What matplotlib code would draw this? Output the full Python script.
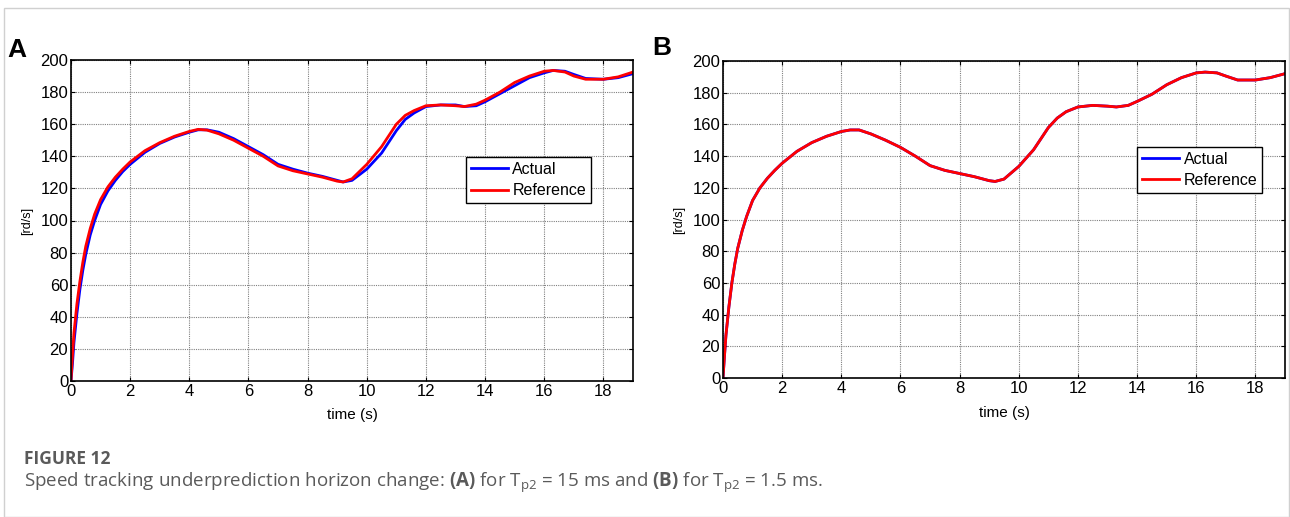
import matplotlib.pyplot as plt
from matplotlib.patches import Rectangle

# time samples (s)
t = [0, 0.05, 0.1, 0.2, 0.3, 0.4, 0.5, 0.65, 0.8, 1.0, 1.25, 1.5, 1.75, 2.0, 2.5, 3.0, 3.5, 4.0,
     4.3, 4.6, 5.0, 5.5, 6.0, 6.5, 7.0, 7.5, 8.0, 8.5, 9.0, 9.2, 9.5, 10.0, 10.5, 11.0, 11.3,
     11.6, 12.0, 12.5, 13.0, 13.3, 13.7, 14.0, 14.5, 15.0, 15.5, 16.0, 16.3, 16.7, 17.0, 17.4,
     18.0, 18.5, 19.0]

# panel A
ref_a = [0, 16, 30, 48, 62, 74, 84, 95, 104, 113, 121, 127, 132, 136.5, 143.5, 148.5, 152.5, 155.5,
         156.8, 156.3, 154, 150, 145, 140, 134, 131, 129, 127, 124.5, 124, 126, 135, 146, 160, 165.5,
         168.5, 171.5, 172, 171.5, 171, 172.5, 175, 180, 186, 190, 193, 193.5, 192.5, 190, 188,
         188, 189.5, 192.5]
act_a = [0, 11, 24, 42, 57, 69, 79, 91, 100, 110, 118.5, 125, 130.5, 135, 142.5, 148, 152, 155,
         156.5, 156.5, 155, 151, 146, 141, 135, 132, 129.5, 127.5, 125, 124, 125, 132, 142, 156, 163,
         167, 171, 172, 172, 171, 171.5, 174, 179, 184, 189, 192, 193.5, 193, 191, 188.5,
         188, 189, 191.5]

# panel B
ref_b = [0, 14, 27, 45, 60, 72, 82, 93, 102, 112, 120, 126, 131, 135.5, 143, 148.5, 152.5, 155.5,
         156.5, 156.5, 154, 150, 145.5, 140, 134, 131, 129, 127, 124.5, 124, 125.5, 133.5, 144, 158, 164,
         168, 171, 172, 171.5, 171, 172, 174.5, 179, 185, 189.5, 192.5, 193, 192.5, 190.5, 188,
         188, 189.5, 192]
act_b = ref_b

xticks = list(range(0, 19, 2))
yticks = list(range(0, 201, 20))

plt.rcParams['font.family'] = ['Liberation Sans', 'DejaVu Sans']
plt.rcParams['lines.solid_joinstyle'] = 'round'

fig = plt.figure(figsize=(12.9, 5.17), dpi=100)
W, H = 1290, 517

# outer card border
fig.patches.append(Rectangle((4 / W, 0), (1289 - 4) / W, (517 - 8) / H, transform=fig.transFigure,
                             fill=False, edgecolor='#d0d0d0', linewidth=1.0))

def make_panel(rect, actual, reference, leg_pos, letter, letter_xy):
    l, r, top, bot = rect
    ax = fig.add_axes([l / W, 1 - bot / H, (r - l) / W, (bot - top) / H])
    ax.plot(t, actual, color='#0000ff', lw=2.0, label='Actual')
    ax.plot(t, reference, color='#ff0000', lw=2.0, label='Reference')
    ax.set_xlim(0, 19)
    ax.set_ylim(0, 200)
    ax.set_xticks(xticks)
    ax.set_yticks(yticks)
    ax.grid(True, color='#808080', linestyle=(0, (1, 1)), linewidth=0.8)
    ax.tick_params(direction='in', top=True, right=True, labelsize=12, length=3, pad=2)
    for s in ax.spines.values():
        s.set_linewidth(1.2)
        s.set_color('black')
    ax.set_xlabel('time (s)', fontsize=11, labelpad=7)
    ax.set_ylabel('[rd/s]', fontsize=9, labelpad=5)
    leg = ax.legend(loc='upper left', bbox_to_anchor=leg_pos, fontsize=11.5, fancybox=False,
                    framealpha=1, edgecolor='black', borderpad=0.3, handlelength=2.3,
                    handletextpad=0.3, labelspacing=0.4, borderaxespad=0)
    leg.get_frame().set_linewidth(1.0)
    fig.text(letter_xy[0] / W, 1 - letter_xy[1] / H, letter, fontsize=19, fontweight='bold',
             ha='left', va='center')
    return ax

make_panel((71, 633, 60, 381), act_a, ref_a, (0.703, 0.698), 'A', (7, 50))
make_panel((723, 1285, 61, 378), act_b, ref_b, (0.737, 0.729), 'B', (652, 48))

plt.rcParams['mathtext.fontset'] = 'custom'
plt.rcParams['mathtext.rm'] = 'Open Sans'
plt.rcParams['mathtext.bf'] = 'Open Sans:bold'

fig.text(24 / W, 1 - 459 / H, 'FIGURE 12', fontsize=12.5, fontweight='bold', color='#5a5a5a',
         family='Open Sans', va='center', ha='left')
fig.text(24 / W, 1 - 483 / H,
         r'Speed tracking underprediction horizon change: $\mathbf{(A)}$ for T$_{\mathrm{p2}}$ = 15 ms '
         r'and $\mathbf{(B)}$ for T$_{\mathrm{p2}}$ = 1.5 ms.',
         fontsize=13.5, color='#5a5a5a', family='Open Sans', va='center', ha='left')

plt.savefig('out.png', dpi=100)
